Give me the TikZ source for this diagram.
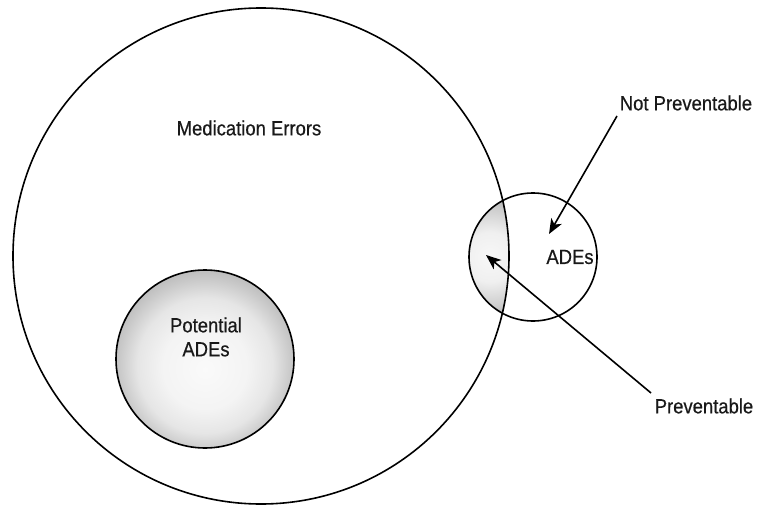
\documentclass[tikz,border=0pt]{standalone}
\usepackage{fontspec}
\setmainfont{Liberation Sans}[FakeStretch=0.9, FakeBold=0.5]
\usetikzlibrary{arrows.meta}
\pgfdeclareradialshading{potshade}{\pgfpoint{0bp}{-3bp}}{%
  color(0bp)=(gray!4); color(12bp)=(gray!9); color(19bp)=(gray!20);
  color(24bp)=(gray!42); color(26bp)=(gray!50); color(50bp)=(gray!50)}
\pgfdeclareradialshading{lensshade}{\pgfpoint{0bp}{0bp}}{%
  color(0bp)=(gray!6); color(10bp)=(gray!12); color(20bp)=(gray!40);
  color(25bp)=(gray!65); color(50bp)=(gray!65)}
\tikzset{
  ring/.style={draw=black, line width=1.6pt},
  lbl/.style={font=\fontsize{20.5}{24}\selectfont, inner sep=0pt, text=black!90},
  pointer/.style={draw=black, line width=1.6pt, -{Stealth[length=15pt,width=12pt,inset=4pt]}}
}
\begin{document}
\begin{tikzpicture}[x=1pt,y=-1pt]
\useasboundingbox (0,0) rectangle (760,508);
\fill[white] (0,0) rectangle (760,508);
% shaded lens (preventable ADEs)
\begin{scope}
  \clip (261,256) circle (248);
  \clip (533,257) circle (64);
  \shade[shading=lensshade] (490,257) circle (62);
\end{scope}
% circles
\node[ring, circle, minimum size=496pt, inner sep=0pt] (me) at (261,256) {};
\node[ring, circle, minimum size=128pt, inner sep=0pt] (ade) at (533,257) {};
\shade[shading=potshade] (205,359) circle (89);
\node[ring, circle, minimum size=178pt, inner sep=0pt] (pot) at (205,359) {};
% labels
\node[lbl] (melbl) at (249,128) {Medication Errors};
\node[lbl, align=center] (potlbl) at (206,337) {Potential\\ADEs};
\node[lbl] (adelbl) at (570,257) {ADEs};
\node[lbl] (np) at (686,103) {Not Preventable};
\node[lbl] (pv) at (704,406) {Preventable};
% arrows
\coordinate (npstart) at (617,116);
\coordinate (nptip) at (549,234);
\coordinate (pvstart) at (651,393);
\coordinate (pvtip) at (486,255);
\draw[pointer] (npstart) -- (nptip);
\draw[pointer] (pvstart) -- (pvtip);
\end{tikzpicture}
\end{document}
